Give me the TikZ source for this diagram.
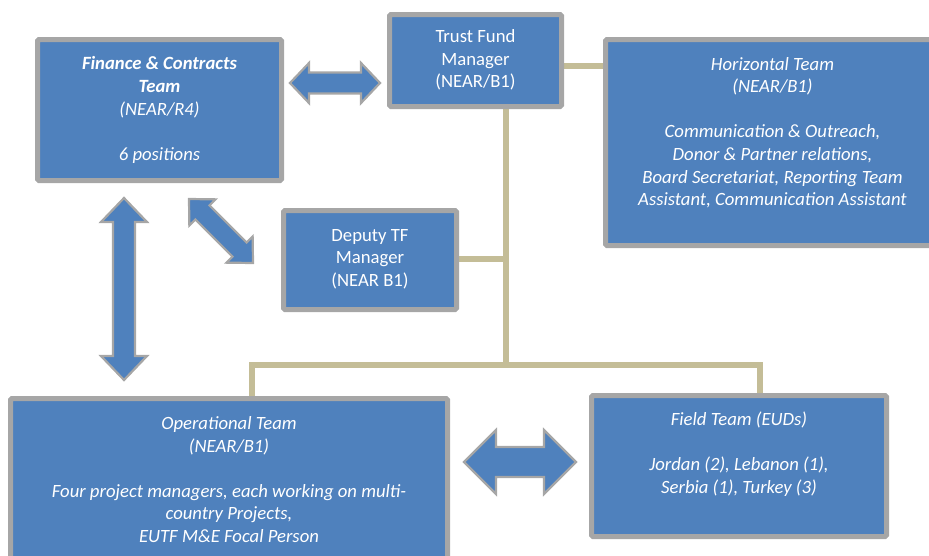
\documentclass[tikz,border=0pt]{standalone}
\usepackage{fontspec}
\setmainfont{Carlito}
\usetikzlibrary{calc,backgrounds}
\definecolor{boxblue}{HTML}{4F81BD}
\definecolor{boxgray}{HTML}{A6A6A6}
\definecolor{tanline}{HTML}{C4BD97}
\newcommand{\blockarrow}[5]{%
  \path let \p1=($(#2)-(#1)$) in \pgfextra{%
    \pgfmathsetmacro{\myarrang}{atan2(\y1,\x1)}%
    \pgfmathsetmacro{\myarrlen}{veclen(\x1,\y1)/1pt}%
    \global\let\myarrang\myarrang \global\let\myarrlen\myarrlen};
  \begin{scope}[shift={(#1)}, rotate=\myarrang, x=1pt, y=1pt]
    \draw[blockarr] (0,0) -- (#5,#4) -- (#5,#3) -- (\myarrlen-#5,#3) -- (\myarrlen-#5,#4)
      -- (\myarrlen,0) -- (\myarrlen-#5,-#4) -- (\myarrlen-#5,-#3) -- (#5,-#3) -- (#5,-#4) -- cycle;
  \end{scope}}
\tikzset{
  box/.style={draw=boxgray, line width=5pt, fill=boxblue, rounded corners=1.5pt,
    inner sep=0pt, outer sep=0pt, anchor=north west},
  txt/.style={text=white, align=center, font=\fontsize{18.7}{22.6}\selectfont, inner sep=0pt},
  tanl/.style={draw=tanline, line width=6pt},
  blockarr/.style={draw=boxgray, line width=2.2pt, fill=boxblue, line join=miter}
}
\begin{document}
\begin{tikzpicture}[x=1pt,y=-1pt]
\useasboundingbox (0,0) rectangle (929,555);
\clip (0,0) rectangle (929,555);
% boxes
\node[box, minimum width=244pt, minimum height=141pt] (fin) at (37.5,39.5) {};
\node[box, minimum width=172pt, minimum height=92pt] (tfm) at (389.5,14.5) {};
\node[box, minimum width=340pt, minimum height=206pt] (hor) at (605.5,39.5) {};
\node[box, minimum width=173pt, minimum height=99pt] (dep) at (283.5,210.5) {};
\node[box, minimum width=437pt, minimum height=180pt] (ops) at (10.5,398.5) {};
\node[box, minimum width=295pt, minimum height=141pt] (fld) at (591.5,395.5) {};
% texts
\node[txt] (fint) at ($(fin.north)+(0,70.5)$) {\bfseries\itshape Finance \& Contracts\\\bfseries\itshape Team\\\itshape (NEAR/R4)\\[22.6pt]\itshape 6 positions};
\node[txt] (tfmt) at ($(tfm.north)+(0,45.5)$) {Trust Fund\\Manager\\(NEAR/B1)};
\node[txt] (hort) at ($(hor.north west)+(167,93)$) {\itshape Horizontal Team\\\itshape (NEAR/B1)\\[22.6pt]\itshape Communication \& Outreach,\\\itshape Donor \& Partner relations,\\\itshape Board Secretariat, Reporting Team\\\itshape Assistant, Communication Assistant};
\node[txt] (dept) at ($(dep.north)+(0,48.5)$) {Deputy TF\\Manager\\(NEAR B1)};
\node[txt] (opst) at ($(ops.north)+(0,81)$) {\itshape Operational Team\\\itshape (NEAR/B1)\\[22.6pt]\itshape Four project managers, each working on multi-\\\itshape country Projects,\\\itshape EUTF M\&E Focal Person};
\node[txt] (fldt) at ($(fld.north)+(0,58.5)$) {\itshape Field Team (EUDs)\\[22.6pt]\itshape Jordan (2), Lebanon (1),\\\itshape Serbia (1), Turkey (3)};
% tan connectors
\coordinate (top) at ($(tfm.south west)+(116.5,0)$);
\coordinate (j) at ($(top)+(0,258.5)$);
\coordinate (opsx) at ($(ops.north west)+(241.5,0)$);
\coordinate (fldx) at ($(fld.north west)+(168.5,0)$);
\coordinate (tfr) at ($(tfm.north east)+(0,51.5)$);
\begin{scope}[on background layer]
\draw[tanl] (top) -- (j);
\draw[tanl] (opsx) -- (opsx |- j) -- (fldx |- j) -- (fldx);
\draw[tanl] ($(dep.east)+(0,-1)$) -- ($(dep.east -| top)+(0,-1)$);
\draw[tanl] (tfr) -- (tfr -| hor.west);
\end{scope}
% block arrows
\coordinate (a1s) at ($(fin.north east)+(8.5,43.5)$);
\coordinate (a1e) at ($(tfm.west)+(-9.5,22.5)$);
\coordinate (a2s) at ($(fin.south west)+(86.5,17.5)$);
\coordinate (a2e) at ($(ops.north west)+(113.5,-18.5)$);
\coordinate (a3s) at ($(fin.south east)+(-92.5,18.5)$);
\coordinate (a3e) at ($(dep.west)+(-30.5,3)$);
\coordinate (a4s) at ($(ops.north east)+(16.5,63.5)$);
\coordinate (a4e) at ($(fld.north west)+(-15.5,66.5)$);
\blockarrow{a1s}{a1e}{10.5}{20}{19}
\blockarrow{a2s}{a2e}{11}{23}{24}
\blockarrow{a3s}{a3e}{10}{18.5}{19}
\blockarrow{a4s}{a4e}{15}{32}{32}
\end{tikzpicture}
\end{document}
